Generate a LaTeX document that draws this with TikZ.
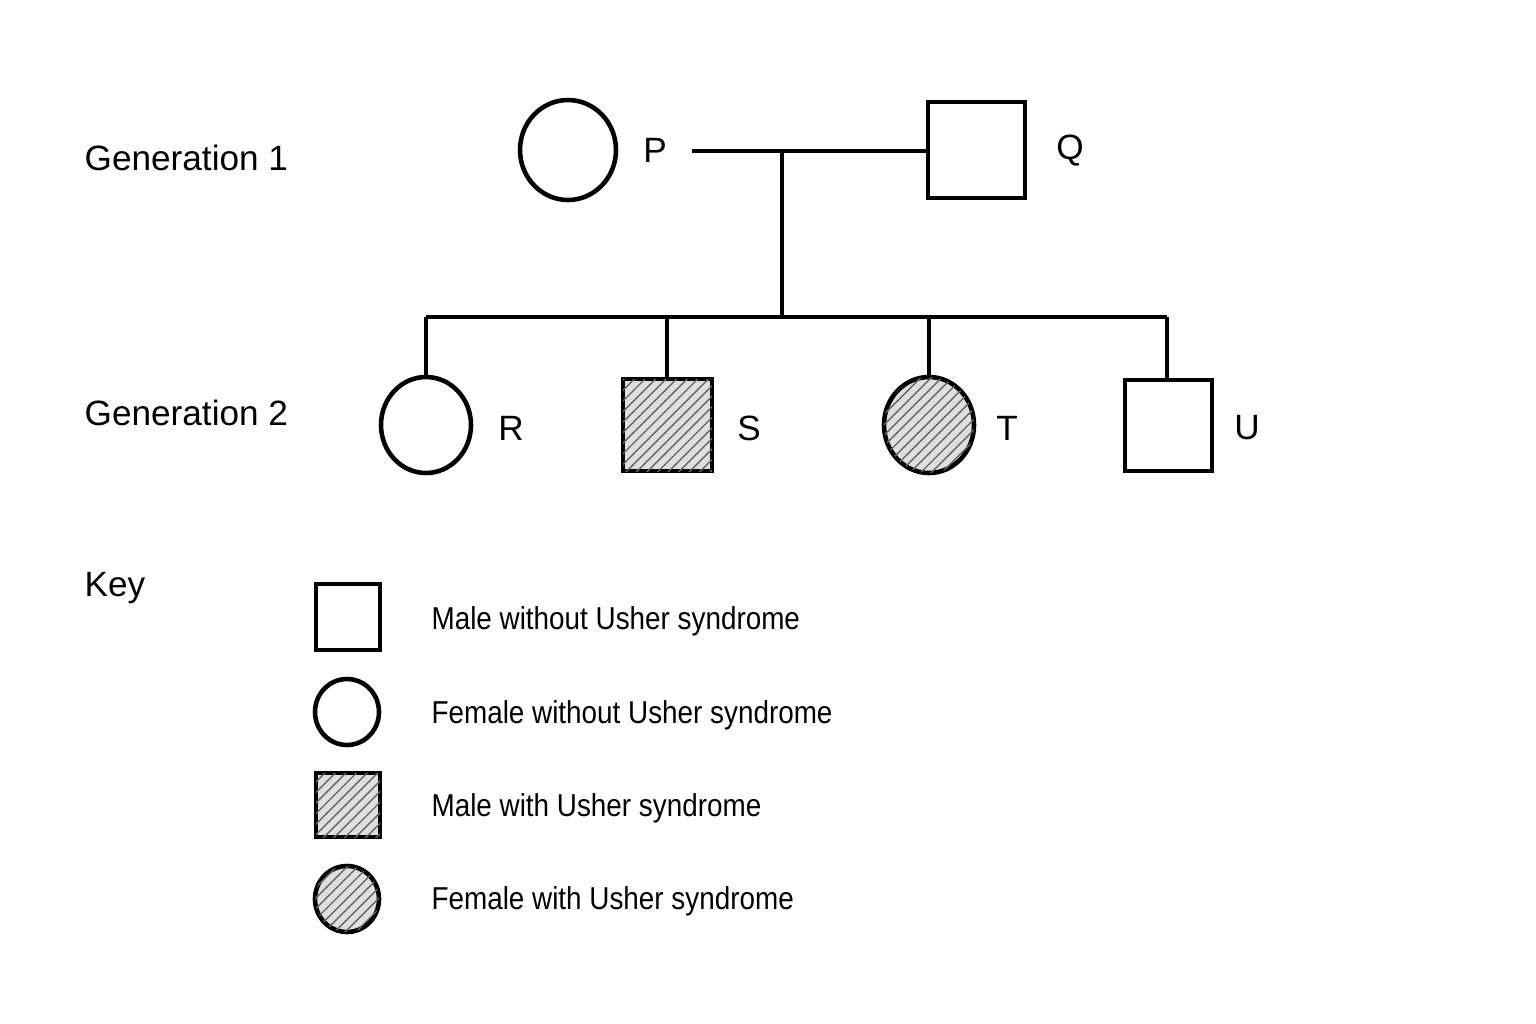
\documentclass[tikz,border=0pt]{standalone}
\usepackage{fontspec}
\setmainfont{Liberation Sans}
\usetikzlibrary{patterns}
\begin{document}
\begin{tikzpicture}[x=0.01cm,y=-0.01cm,
  ln/.style={line width=1.3pt},
  hat/.style={fill=gray!25,postaction={pattern=north east lines,pattern color=gray!80!black}},
  lab/.style={font=\fontsize{10}{12}\selectfont},
  key/.style={font=\fontsize{9}{11}\selectfont,anchor=west,inner sep=0,xscale=0.88,transform shape}]
\useasboundingbox (0,0) rectangle (1536,1024);
\fill[white] (0,0) rectangle (1536,1024);
% generation 1
\draw[ln] (568,150) ellipse [x radius=48,y radius=50];
\node[lab] (P) at (655,150) {P};
\draw[ln] (928,102) rectangle (1025,198);
\coordinate (Qw) at (928,151);
\node[lab] (Q) at (1070,151) {Q};
\coordinate (Pe) at (692,151);
\coordinate (M) at (782,151);
\coordinate (B) at (782,317);
\draw[ln] (Pe) -- (Qw);
\draw[ln] (M) -- (B);
\coordinate (L) at (426,317); \coordinate (Rr) at (1167,317);
\draw[ln] (L) -- (Rr);
% generation 2
\draw[ln] (426,425) ellipse [x radius=45,y radius=48];
\draw[ln,hat] (623,379) rectangle (712,471);
\draw[ln,hat] (929,425) ellipse [x radius=45,y radius=48];
\draw[ln] (1125,380) rectangle (1212,471);
\draw[ln] (426,317) -- (426,377);
\draw[ln] (667,317) -- (667,379);
\draw[ln] (929,317) -- (929,377);
\draw[ln] (1167,317) -- (1167,380);
\node[lab] (R) at (511,428) {R};
\node[lab] (S) at (749,428) {S};
\node[lab] (T) at (1007,428) {T};
\node[lab] (U) at (1247,428) {U};
\node[lab,anchor=west,inner sep=0] (g1) at (84,158) {Generation 1};
\node[lab,anchor=west,inner sep=0] (g2) at (84,413) {Generation 2};
\node[lab,anchor=west,inner sep=0] (k) at (84,588) {Key};
% key
\draw[ln] (316,584) rectangle (380,650);
\draw[ln] (347,712) ellipse [x radius=32,y radius=33];
\draw[ln,hat] (316,773) rectangle (380,837);
\draw[ln,hat] (347,899) ellipse [x radius=32,y radius=33];
\node[key] (k1) at (431,621) {Male without Usher syndrome};
\node[key] (k2) at (431,715) {Female without Usher syndrome};
\node[key] (k3) at (431,808) {Male with Usher syndrome};
\node[key] (k4) at (431,901) {Female with Usher syndrome};
\end{tikzpicture}
\end{document}
